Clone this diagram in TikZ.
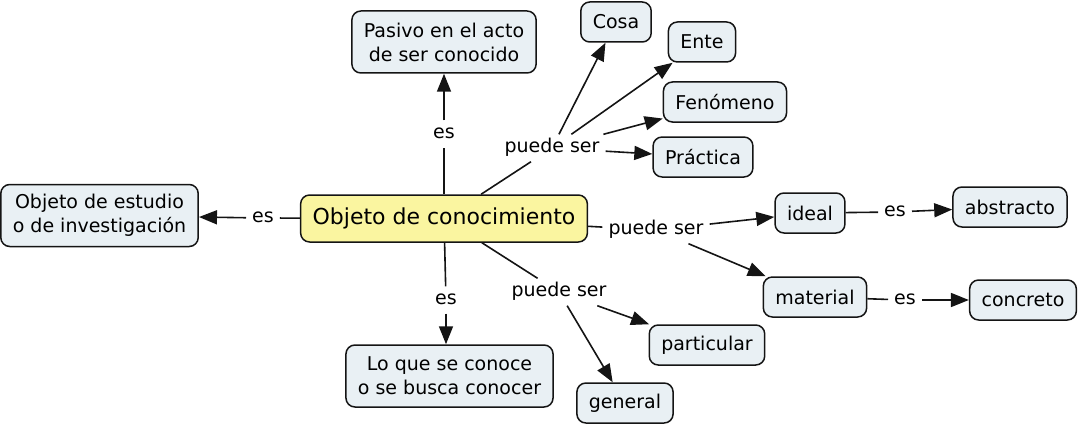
\documentclass[tikz,border=0pt]{standalone}
\usepackage{fontspec}
\setmainfont{DejaVu Sans}
\usetikzlibrary{arrows.meta}
\definecolor{MapFill}{HTML}{E9F0F4}
\definecolor{MapCore}{HTML}{FAF5A0}
\definecolor{MapLine}{HTML}{141414}
\tikzset{
  concept/.style={rounded corners=9pt, draw=MapLine, fill=MapFill, line width=1.5pt,
                  align=center, inner xsep=12pt, inner ysep=0pt, minimum height=40pt,
                  font=\fontsize{19}{24}\selectfont},
  twoline/.style={concept, minimum height=62pt},
  core/.style={concept, fill=MapCore, minimum height=47pt, font=\fontsize{22}{26}\selectfont},
  link/.style={inner xsep=6pt, inner ysep=4pt, text height=14pt, text depth=5pt,
               font=\fontsize{19}{24}\selectfont},
  tie/.style={line width=1.6pt, draw=MapLine},
  flow/.style={tie, -{Triangle[length=18pt,width=14pt]}},
}
\begin{document}
\begin{tikzpicture}[x=1pt,y=-1pt]
    \useasboundingbox (0,0) rectangle (1080,428);
    % concepts
    \node[core] (obj) at (444,218.5) {Objeto de conocimiento};
    \node[twoline] (pasivo) at (444,42) {Pasivo en el acto\\de ser conocido};
    \node[twoline] (estudio) at (99.5,215.5) {Objeto de estudio\\o de investigación};
    \node[twoline] (loque) at (449.5,376) {Lo que se conoce\\o se busca conocer};
    \node[concept] (cosa) at (616,22) {Cosa};
    \node[concept] (ente) at (702,42) {Ente};
    \node[concept] (fenomeno) at (725,102) {Fenómeno};
    \node[concept] (practica) at (703,157) {Práctica};
    \node[concept] (ideal) at (810,213) {ideal};
    \node[concept] (abstracto) at (1010,207) {abstracto};
    \node[concept] (material) at (815,297) {material};
    \node[concept] (concreto) at (1023,300) {concreto};
    \node[concept] (particular) at (707,345) {particular};
    \node[concept] (general) at (625,403) {general};
    % linking phrases
    \node[link] (esTop) at (444,134) {es};
    \node[link] (esLeft) at (263,218) {es};
    \node[link] (esDown) at (446,300) {es};
    \node[link] (esIdeal) at (895,212) {es};
    \node[link] (esMat) at (905,300) {es};
    \node[link] (psTop) at (552,148) {puede ser};
    \node[link] (psRight) at (656,230) {puede ser};
    \node[link] (psDown) at (559,292) {puede ser};
    % connections
    \draw[tie] (obj) -- (esTop);
    \draw[flow] (esTop) -- (pasivo);
    \draw[tie] (obj) -- (esLeft);
    \draw[flow] (esLeft) -- (estudio);
    \draw[tie] (obj) -- (esDown);
    \draw[flow] (esDown) -- (esDown |- loque.north);
    \draw[tie] (obj) -- (psTop);
    \draw[flow] (psTop) -- (cosa);
    \draw[flow] (psTop) -- (ente);
    \draw[flow] (psTop) -- (fenomeno);
    \draw[flow] (psTop) -- (practica);
    \draw[tie] (obj) -- (psRight);
    \draw[flow] (psRight) -- (ideal);
    \draw[flow] (psRight) -- (material);
    \draw[tie] (ideal) -- (esIdeal);
    \draw[flow] (esIdeal) -- (abstracto);
    \draw[tie] (material) -- (esMat);
    \draw[flow] (esMat) -- (concreto);
    \draw[tie] (obj) -- (psDown);
    \draw[flow] (psDown) -- (particular);
    \draw[flow] (psDown) -- (general);
\end{tikzpicture}
\end{document}
